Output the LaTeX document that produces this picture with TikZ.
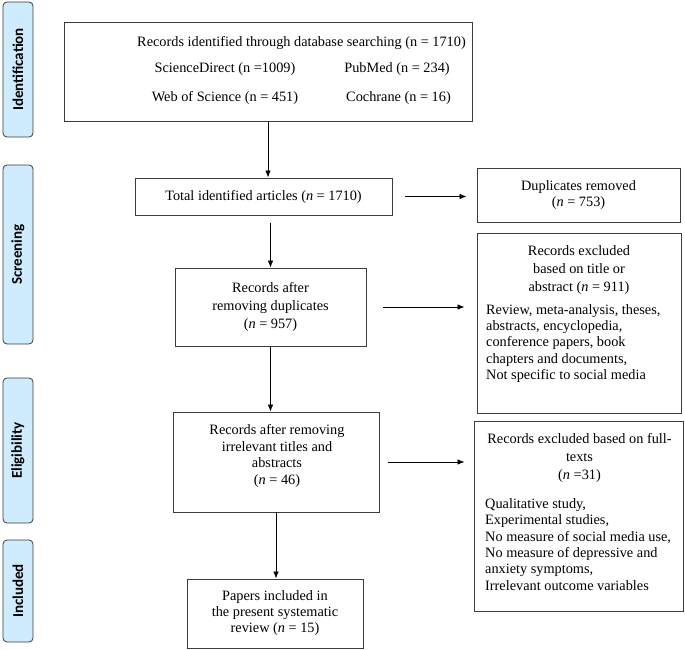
\documentclass[tikz,border=0pt]{standalone}
\usepackage{fontspec}
\setmainfont{Liberation Serif}
\newfontfamily\lblfont{Carlito}
\usetikzlibrary{arrows.meta}
\definecolor{phaseblue}{RGB}{206,236,253}
\definecolor{edgegray}{RGB}{60,60,60}
\begin{document}
\begin{tikzpicture}[x=1pt,y=-1pt,
  box/.style={draw=edgegray, line width=0.9pt, inner sep=0pt, align=center,
    font=\fontsize{14.3}{16.4}\selectfont},
  txt/.style={inner sep=0pt, align=center, font=\fontsize{14.3}{16.4}\selectfont},
  ltxt/.style={inner sep=0pt, align=left, font=\fontsize{14.3}{16.3}\selectfont},
  phase/.style={draw=edgegray, fill=phaseblue, rounded corners=4pt, line width=0.8pt,
    rotate=90, font=\lblfont\bfseries\fontsize{15}{18}\selectfont,
    minimum height=30pt, inner sep=0pt},
  arr/.style={-{Latex[length=7pt,width=5.5pt]}, line width=0.8pt, draw=black}]
\useasboundingbox (0,0) rectangle (685,650);

% phase labels
\node[phase, minimum width=135pt] (pid) at (18,69.5) {Identification};
\node[phase, minimum width=179pt] (psc) at (18,254.5) {Screening};
\node[phase, minimum width=145pt] (pel) at (18,450.5) {Eligibility};
\node[phase, minimum width=102pt] (pin) at (18,591) {Included};

% identification box
\node[box, minimum width=408pt, minimum height=99pt] (top) at (268,71.5) {};
\node[txt] (t1) at (301.5,43) {Records identified through database searching (n = 1710)};
\node[txt] (t2) at (225,69) {ScienceDirect (n =1009)};
\node[txt] (t3) at (397,69) {PubMed (n = 234)};
\node[txt] (t4) at (225,98) {Web of Science (n = 451)};
\node[txt] (t5) at (398.5,98) {Cochrane (n = 16)};

% screening
\node[box, minimum width=257pt, minimum height=37pt] (total) at (263.5,196.5)
  {Total identified articles (\textit{n} = 1710)};
\node[box, minimum width=203pt, minimum height=54pt] (dupr) at (578.5,195)
  {Duplicates removed\\(\textit{n} = 753)};
\node[box, minimum width=191pt, minimum height=78pt] (afterdup) at (270.5,307)
  {Records after\\[1.6pt]removing duplicates\\[1.6pt](\textit{n} = 957)};
\node[box, minimum width=204pt, minimum height=180pt] (title) at (579,323) {};
\node[txt] (titleh) at (579,270)
  {Records excluded\\[1.4pt]based on title or\\[1.4pt]abstract (\textit{n} = 911)};
\node[ltxt, anchor=west] (titlel) at (486,343.5)
  {Review, meta-analysis, theses,\\abstracts, encyclopedia,\\conference papers, book\\chapters and documents,\\Not specific to social media};

% eligibility
\node[box, minimum width=206pt, minimum height=100pt] (elig) at (276,462) {};
\node[txt] (eligt) at (277,456)
  {Records after removing\\irrelevant titles and\\abstracts\\(\textit{n} = 46)};
\node[box, minimum width=209pt, minimum height=190pt] (full) at (578.5,516) {};
\node[txt] (fullh) at (579.5,458)
  {Records excluded based on full-\\[1.2pt]texts\\[1.2pt](\textit{n} =31)};
\node[ltxt, anchor=west] (fulll) at (485,544.5)
  {Qualitative study,\\Experimental studies,\\No measure of social media use,\\No measure of depressive and\\anxiety symptoms,\\Irrelevant outcome variables};

% included
\node[box, minimum width=176pt, minimum height=69pt] (papers) at (275,613.5)
  {Papers included in\\[-0.4pt]the present systematic\\[-0.4pt]review (\textit{n} = 15)};

% connectors
\draw[arr] (top.south) -- (top.south |- total.north);
\draw[arr, shorten <=8pt] (afterdup.north |- total.south) -- (afterdup.north);
\draw[arr] (afterdup.south) -- (afterdup.south |- elig.north);
\draw[arr] (elig.south) -- (elig.south |- papers.north);
\draw[arr, shorten <=13pt, shorten >=10pt] (total.east) -- (total.east -| dupr.west);
\draw[arr, shorten <=17pt, shorten >=12pt] (afterdup.east) -- (afterdup.east -| title.west);
\draw[arr, shorten <=9pt, shorten >=9pt] (elig.east) -- (elig.east -| full.west);
\end{tikzpicture}
\end{document}
